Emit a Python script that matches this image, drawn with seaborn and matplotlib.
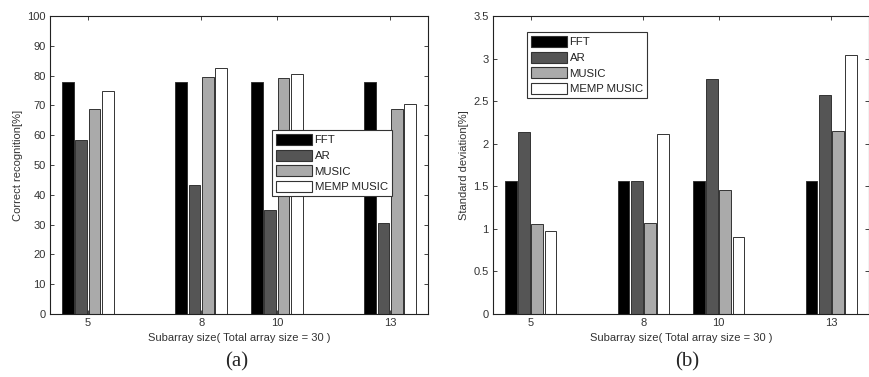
import numpy as np
import pandas as pd
import matplotlib
matplotlib.use("Agg")
import matplotlib.pyplot as plt
import seaborn as sns
from matplotlib.ticker import FuncFormatter

# ---- data ----
sizes = [5, 8, 10, 13]
methods = ['FFT', 'AR', 'MUSIC', 'MEMP MUSIC']

recog_fft = [77.8, 77.8, 77.8, 77.8]
recog_ar = [58.4, 43.2, 34.8, 30.4]
recog_music = [68.7, 79.5, 79.3, 68.7]
recog_memp = [74.7, 82.4, 80.6, 70.4]

std_fft = [1.56, 1.56, 1.56, 1.56]
std_ar = [2.14, 1.56, 2.76, 2.57]
std_music = [1.06, 1.07, 1.46, 2.15]
std_memp = [0.98, 2.11, 0.90, 3.04]

colors = ['#000000', '#555555', '#aaaaaa', '#ffffff']

sns.set_theme(style="ticks")
plt.rcParams['font.family'] = ['Liberation Sans', 'DejaVu Sans']
plt.rcParams.update({
    'xtick.direction': 'in', 'ytick.direction': 'in',
    'xtick.top': True, 'ytick.right': True,
    'xtick.major.size': 3, 'ytick.major.size': 3,
    'xtick.major.width': 0.6, 'ytick.major.width': 0.6,
    'xtick.color': '#222222', 'ytick.color': '#222222',
    'xtick.labelcolor': '#333333', 'ytick.labelcolor': '#333333',
    'axes.edgecolor': '#222222', 'axes.linewidth': 0.8,
    'axes.labelcolor': '#333333',
})


def long_table(series):
    rows = []
    for name, vals in zip(methods, series):
        for s, v in zip(sizes, vals):
            rows.append({'size': s, 'value': v, 'method': name})
    return pd.DataFrame(rows)


def draw(ax, df, ylim, yticks, ylabel, ylab_x, leg_anchor):
    sns.barplot(data=df, x='size', y='value', hue='method', hue_order=methods,
                native_scale=True, palette=colors, edgecolor='#333333',
                linewidth=0.7, width=0.705, gap=0.12, errorbar=None,
                saturation=1, ax=ax)
    ax.set_xlim(4, 14)
    ax.set_xticks(sizes)
    ax.set_ylim(*ylim)
    ax.set_yticks(yticks)
    ax.yaxis.set_major_formatter(FuncFormatter(lambda v, _: f'{v:g}'))
    ax.tick_params(labelsize=8, pad=3)
    ax.set_xlabel('Subarray size( Total array size = 30 )', fontsize=8)
    ax.set_ylabel(ylabel, fontsize=8)
    ax.xaxis.set_label_coords(0.5, -0.063)
    ax.yaxis.set_label_coords(ylab_x, 0.5)
    for side in ['top', 'right', 'left', 'bottom']:
        ax.spines[side].set_visible(True)

    old = ax.get_legend()
    handles = old.legend_handles
    labels = [t.get_text() for t in old.get_texts()]
    old.remove()
    leg = ax.legend(handles, labels, loc='upper left', bbox_to_anchor=leg_anchor,
                    fontsize=8.2, frameon=True, fancybox=False, framealpha=1,
                    edgecolor='#333333', handlelength=3.2, handleheight=1.1,
                    handletextpad=0.2, labelspacing=0.38, borderpad=0.35,
                    borderaxespad=0)
    leg.get_frame().set_linewidth(0.8)
    for h in leg.legend_handles:
        h.set_edgecolor('#333333')
        h.set_linewidth(0.8)
    for t in leg.get_texts():
        t.set_color('#222222')


fig = plt.figure(figsize=(8.7, 3.77), dpi=100)
ax1 = fig.add_axes([50 / 870, 1 - 314 / 377, 378 / 870, 298 / 377])
ax2 = fig.add_axes([493 / 870, 1 - 314 / 377, 376 / 870, 298 / 377])

df_a = long_table([recog_fft, recog_ar, recog_music, recog_memp])
df_b = long_table([std_fft, std_ar, std_music, std_memp])

draw(ax1, df_a, (0, 100), np.arange(0, 101, 10), 'Correct recognition[%]',
     -0.072, (0.587, 0.617))
draw(ax2, df_b, (0, 3.5), np.arange(0, 3.51, 0.5), 'Standard deviation[%]',
     -0.064, (0.09, 0.946))

fig.text(237 / 870, 1 - 362 / 377, '(a)', ha='center', va='center',
         fontsize=15, family=['Liberation Serif', 'DejaVu Serif'])
fig.text(687 / 870, 1 - 362 / 377, '(b)', ha='center', va='center',
         fontsize=15, family=['Liberation Serif', 'DejaVu Serif'])

fig.savefig('out.png', dpi=100)
